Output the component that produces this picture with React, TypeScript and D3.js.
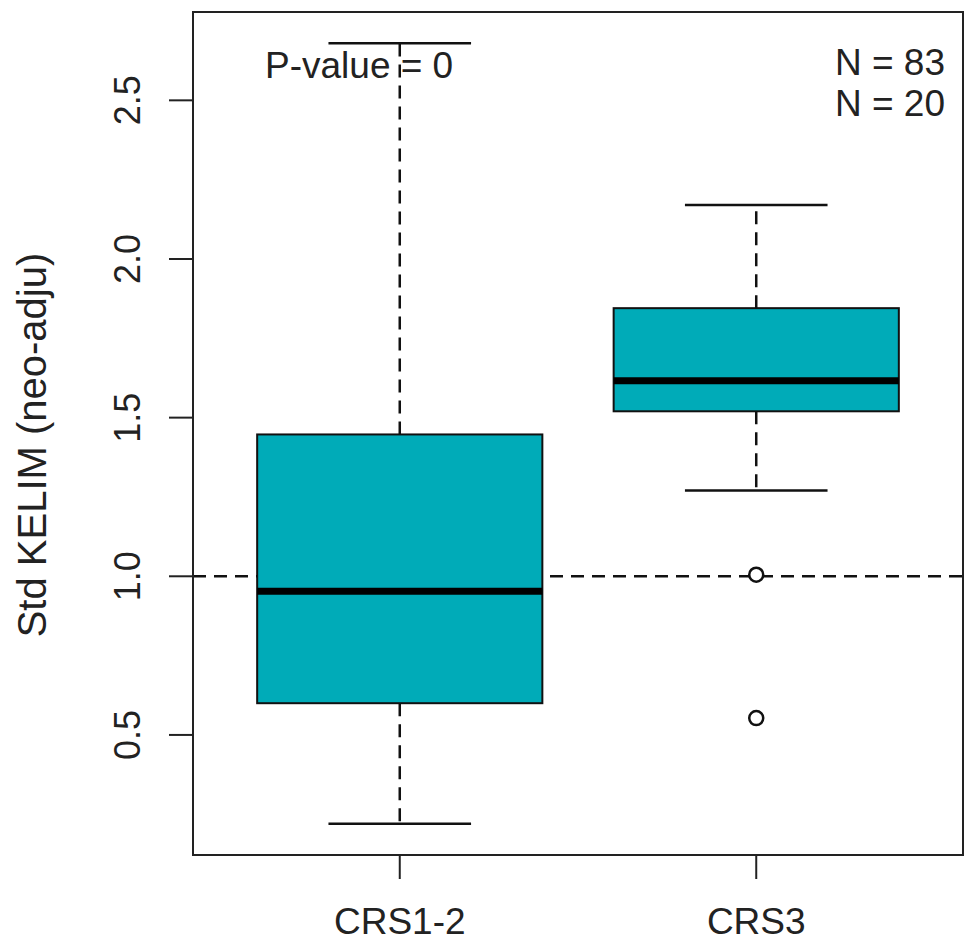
import React from "react";
import * as d3 from "d3";

// Group summaries (Tukey box statistics)
const groups = ["CRS1-2", "CRS3"];
const groupCounts = [83, 20];
const whiskerLow = [0.22, 1.27];
const quartile1 = [0.6, 1.52];
const medians = [0.953, 1.616];
const quartile3 = [1.447, 1.845];
const whiskerHigh = [2.68, 2.17];
const outlierValues: number[][] = [[], [1.005, 0.553]];
const yTicks = [0.5, 1.0, 1.5, 2.0, 2.5];
const referenceValue = 1.0;
const pValue = 0;
const yLabel = "Std KELIM (neo-adju)";

const W = 964;
const H = 943;
const plot = { left: 193, right: 963, top: 12, bottom: 855 };
const FONT = "'Liberation Sans', Arial, Helvetica, sans-serif";
const FILL = "#00abb8";
const DASH = "13,8";

export default function App() {
  const yMin = Math.min(...whiskerLow, ...outlierValues.flat());
  const yMax = Math.max(...whiskerHigh, ...outlierValues.flat());
  const pad = (yMax - yMin) * 0.04;
  const y = d3.scaleLinear().domain([yMin - pad, yMax + pad]).range([plot.bottom, plot.top]);
  const n = groups.length;
  const xPad = n * 0.04;
  const x = d3.scaleLinear().domain([0.5 - xPad, n + 0.5 + xPad]).range([plot.left, plot.right]);
  const unit = x(1) - x(0);
  const boxHalf = unit * 0.4;
  const capHalf = unit * 0.2;
  const fmt = d3.format(".1f");

  return (
    <svg
      width={W}
      height={H}
      viewBox={`0 0 ${W} ${H}`}
      style={{ position: "absolute", left: 0, top: 0, background: "#fff" }}
      fontFamily={FONT}
    >
      <rect width={W} height={H} fill="#fff" />

      {/* reference line */}
      <line
        x1={plot.left}
        x2={plot.right}
        y1={y(referenceValue)}
        y2={y(referenceValue)}
        stroke="#111"
        strokeWidth={2.5}
        strokeDasharray={DASH}
      />

      {groups.map((g, i) => {
        const cx = x(i + 1);
        return (
          <g key={g}>
            {/* whiskers */}
            <line x1={cx} x2={cx} y1={y(quartile3[i])} y2={y(whiskerHigh[i])} stroke="#111" strokeWidth={2.5} strokeDasharray={DASH} />
            <line x1={cx} x2={cx} y1={y(quartile1[i])} y2={y(whiskerLow[i])} stroke="#111" strokeWidth={2.5} strokeDasharray={DASH} />
            <line x1={cx - capHalf} x2={cx + capHalf} y1={y(whiskerHigh[i])} y2={y(whiskerHigh[i])} stroke="#111" strokeWidth={2.5} />
            <line x1={cx - capHalf} x2={cx + capHalf} y1={y(whiskerLow[i])} y2={y(whiskerLow[i])} stroke="#111" strokeWidth={2.5} />
            {/* box */}
            <rect
              x={cx - boxHalf}
              y={y(quartile3[i])}
              width={boxHalf * 2}
              height={y(quartile1[i]) - y(quartile3[i])}
              fill={FILL}
              stroke="#111"
              strokeWidth={2}
            />
            <line x1={cx - boxHalf} x2={cx + boxHalf} y1={y(medians[i])} y2={y(medians[i])} stroke="#000" strokeWidth={7} />
            {/* outliers */}
            {outlierValues[i].map((v, j) => (
              <circle key={j} cx={cx} cy={y(v)} r={7} fill="#fff" stroke="#111" strokeWidth={2.5} />
            ))}
          </g>
        );
      })}

      {/* frame */}
      <rect
        x={plot.left}
        y={plot.top}
        width={plot.right - plot.left}
        height={plot.bottom - plot.top}
        fill="none"
        stroke="#222"
        strokeWidth={2}
      />

      {/* y axis */}
      {yTicks.map((t) => (
        <g key={t}>
          <line x1={plot.left - 24} x2={plot.left} y1={y(t)} y2={y(t)} stroke="#222" strokeWidth={2} />
          <text
            transform={`translate(${140},${y(t)}) rotate(-90)`}
            textAnchor="middle"
            fontSize={36}
            fill="#222"
          >
            {fmt(t)}
          </text>
        </g>
      ))}
      <text
        transform={`translate(${46},${445}) rotate(-90)`}
        textAnchor="middle"
        fontSize={40}
        fill="#222"
      >
        {yLabel}
      </text>

      {/* x axis */}
      {groups.map((g, i) => (
        <g key={g}>
          <line x1={x(i + 1)} x2={x(i + 1)} y1={plot.bottom} y2={plot.bottom + 24} stroke="#222" strokeWidth={2} />
          <text x={x(i + 1)} y={934} textAnchor="middle" fontSize={37} fill="#222">
            {g}
          </text>
        </g>
      ))}

      {/* annotations */}
      <text x={265} y={78} fontSize={37} fill="#222">{`P-value = ${pValue}`}</text>
      {groupCounts.map((c, i) => (
        <text key={i} x={945} y={75 + i * 41} textAnchor="end" fontSize={37} fill="#222">
          {`N = ${c}`}
        </text>
      ))}
    </svg>
  );
}
